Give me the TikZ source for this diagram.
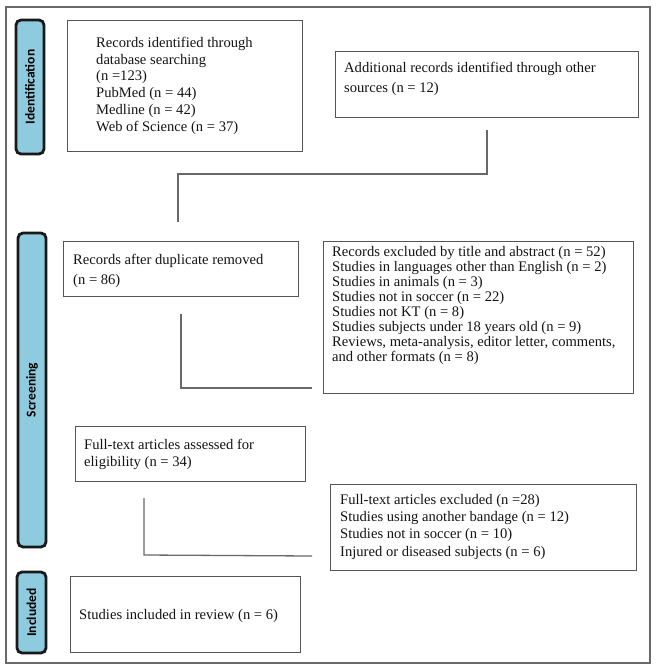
\documentclass[tikz,border=0pt]{standalone}
\usepackage{fontspec}
\setmainfont{Liberation Serif}
\newfontfamily\labfont{Carlito}
\begin{document}
\begin{tikzpicture}[x=1pt,y=-1pt,
  box/.style={draw=boxgray,line width=1.4pt,anchor=north west,inner sep=0pt},
  txt/.style={anchor=north west,inner sep=0pt,align=left,text=black!92},
  phase/.style={draw=black!90,line width=2.8pt,rounded corners=5pt,fill=phaseblue,rotate=90,
    inner sep=0pt,font=\labfont\bfseries\fontsize{13.5}{15}\selectfont},
  conn/.style={draw=conngray,line width=1.3pt}]
\definecolor{boxgray}{RGB}{85,85,85}
\definecolor{conngray}{RGB}{105,105,105}
\definecolor{phaseblue}{RGB}{142,203,222}
\useasboundingbox[fill=white] (0,0) rectangle (658,672);
% outer frame
\draw[draw=conngray,line width=1.5pt] (6,7) rectangle (650,663);
% phase labels
\node[phase,minimum width=134pt,minimum height=28pt] (pid) at (30,87) {Identification};
\node[phase,minimum width=314pt,minimum height=28pt] (psc) at (32,390) {Screening};
\node[phase,minimum width=81pt,minimum height=29pt] (pin) at (31.5,612.5) {Included};
% boxes
\node[box,minimum width=235pt,minimum height=131pt] (b1) at (67,20) {};
\node[txt,font=\fontsize{14.6}{16.8}\selectfont] (t1) at (96,36)
  {\rule{0pt}{11pt}Records identified through\\database searching\\(n =123)\\PubMed (n = 44)\\Medline (n = 42)\\Web of Science (n = 37)};
\node[box,minimum width=303pt,minimum height=66pt] (b2) at (335,51) {};
\node[txt,font=\fontsize{14.6}{20}\selectfont] (t2) at (344,61)
  {\rule{0pt}{11pt}Additional records identified through other\\sources (n = 12)};
\node[box,minimum width=235pt,minimum height=55pt] (b3) at (63,241) {};
\node[txt,font=\fontsize{14.6}{20}\selectfont] (t3) at (73,253)
  {\rule{0pt}{11pt}Records after duplicate removed\\(n = 86)};
\node[box,minimum width=310pt,minimum height=152pt] (b4) at (323,241) {};
\node[txt,font=\fontsize{14.6}{15.1}\selectfont] (t4) at (332,245)
  {\rule{0pt}{11pt}Records excluded by title and abstract (n = 52)\\Studies in languages other than English (n = 2)\\Studies in animals (n = 3)\\Studies not in soccer (n = 22)\\Studies not KT (n = 8)\\Studies subjects under 18 years old (n = 9)\\Reviews, meta-analysis, editor letter, comments,\\and other formats (n = 8)};
\node[box,minimum width=230pt,minimum height=55pt] (b5) at (75,426) {};
\node[txt,font=\fontsize{14.6}{17}\selectfont] (t5) at (84,438)
  {\rule{0pt}{11pt}Full-text articles assessed for\\eligibility (n = 34)};
\node[box,minimum width=306pt,minimum height=86pt] (b6) at (330,484) {};
\node[txt,font=\fontsize{14.6}{17.3}\selectfont] (t6) at (340,493)
  {\rule{0pt}{11pt}Full-text articles excluded (n =28)\\Studies using another bandage (n = 12)\\Studies not in soccer (n = 10)\\Injured or diseased subjects (n = 6)};
\node[box,minimum width=230pt,minimum height=76pt] (b7) at (70,576) {};
\node[txt,font=\fontsize{14.6}{17}\selectfont] (t7) at (79,608)
  {\rule{0pt}{11pt}Studies included in review (n = 6)};
% connectors
\coordinate (c1a) at (487,130);
\coordinate (c1b) at (178,174);
\coordinate (c1c) at (178,222);
\draw[conn] (c1a) |- (c1b) -- (c1c);
\coordinate (c2a) at (181,314);
\coordinate (c2b) at (181,388);
\coordinate (c2c) at (312,388);
\draw[conn] (c2a) -- (c2b) -- (c2c);
\coordinate (c3a) at (144,498);
\coordinate (c3b) at (144,555);
\coordinate (c3c) at (312,556);
\draw[conn] (c3a) -- (c3b) -- (c3c);
\end{tikzpicture}
\end{document}
